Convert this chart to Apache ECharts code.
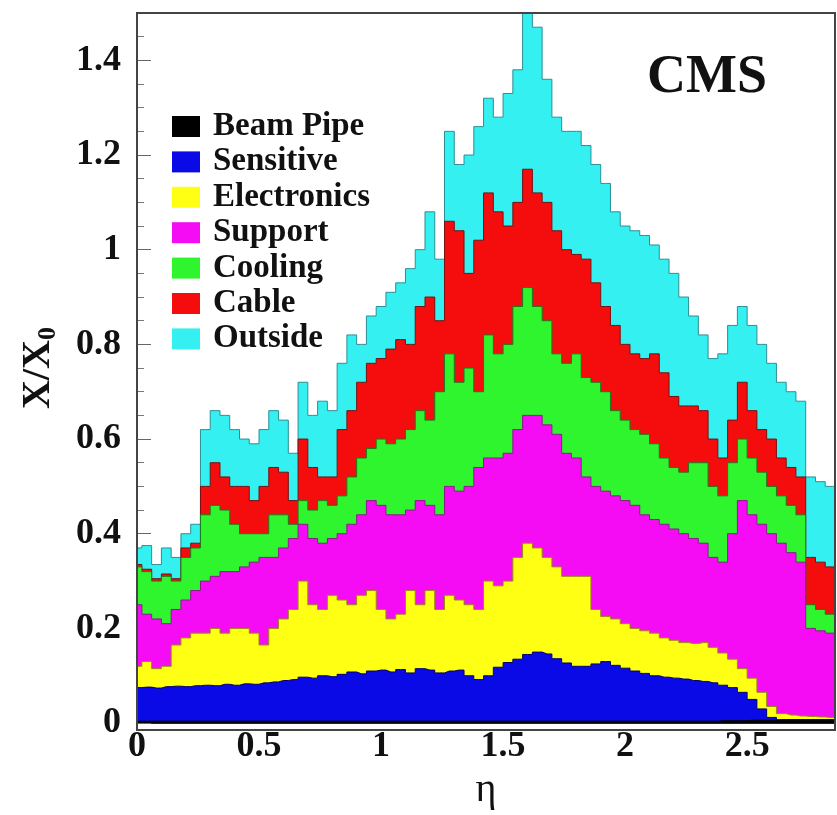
<!DOCTYPE html>
<html><head><meta charset="utf-8">
<script src="https://cdn.jsdelivr.net/npm/echarts@6.0.0/dist/echarts.min.js"></script>
<style>html,body{margin:0;padding:0;background:#fff}#c{width:837px;height:815px}</style>
</head><body><div id="c"></div>
<script>
// eta bin positions
const eta = [0,0.04,0.08,0.12,0.16,0.20,0.24,0.28,0.32,0.36,0.40,0.44,0.48,0.52,0.56,
 0.60,0.64,0.68,0.72,0.76,0.80,0.84,0.88,0.92,0.96,1.00,1.04,1.08,1.12,1.16,
 1.20,1.24,1.28,1.32,1.36,1.40,1.44,1.48,1.52,1.56,1.60,1.64,1.68,1.72,1.76,
 1.80,1.84,1.88,1.92,1.96,2.00,2.04,2.08,2.12,2.16,2.20,2.24,2.28,2.32,2.36,
 2.40,2.44,2.48,2.52,2.56,2.60,2.64,2.68,2.72,2.76,2.80,2.84,2.86];

// cumulative X/X0 (top edge of each category, stacked from the beam pipe upward)
const beamPipeTop = [0.004,0.004,0.004,0.004,0.004,0.004,0.004,0.004,0.004,0.004,0.004,0.004,0.004,0.004,0.004,
 0.004,0.004,0.004,0.004,0.004,0.004,0.004,0.004,0.004,0.004,0.004,0.004,0.004,0.004,0.004,
 0.004,0.004,0.004,0.004,0.004,0.004,0.004,0.004,0.004,0.004,0.004,0.004,0.004,0.004,0.004,
 0.004,0.004,0.004,0.004,0.004,0.004,0.004,0.004,0.004,0.004,0.004,0.004,0.004,0.004,0.004,
 0.005,0.005,0.005,0.006,0.006,0.006,0.007,0.007,0.007,0.007,0.007,0.007,0.007];
const sensitiveTop = [0.075,0.076,0.074,0.077,0.078,0.077,0.079,0.080,0.079,0.082,0.080,0.083,0.082,0.085,0.087,
 0.090,0.092,0.097,0.095,0.100,0.098,0.103,0.108,0.104,0.110,0.112,0.108,0.113,0.106,0.115,
 0.112,0.106,0.110,0.112,0.100,0.092,0.100,0.118,0.128,0.135,0.145,0.150,0.146,0.136,0.127,
 0.120,0.120,0.125,0.130,0.122,0.116,0.110,0.105,0.100,0.097,0.095,0.093,0.090,0.088,0.085,
 0.080,0.075,0.065,0.050,0.030,0.012,0.007,0.007,0.007,0.007,0.007,0.007,0.007];
const electronicsTop = [0.12,0.13,0.115,0.12,0.165,0.18,0.19,0.19,0.20,0.19,0.20,0.20,0.19,0.165,0.20,
 0.22,0.24,0.30,0.25,0.24,0.27,0.26,0.25,0.27,0.28,0.24,0.22,0.23,0.28,0.25,
 0.28,0.24,0.27,0.26,0.25,0.24,0.30,0.29,0.30,0.35,0.38,0.37,0.35,0.33,0.31,
 0.31,0.31,0.24,0.225,0.22,0.21,0.20,0.195,0.19,0.18,0.175,0.17,0.168,0.17,0.16,
 0.148,0.135,0.115,0.095,0.065,0.035,0.02,0.017,0.015,0.014,0.013,0.012,0.012];
const supportTop = [0.25,0.23,0.22,0.21,0.24,0.26,0.28,0.30,0.31,0.32,0.32,0.33,0.34,0.35,0.35,
 0.37,0.39,0.42,0.39,0.38,0.39,0.40,0.42,0.44,0.47,0.46,0.44,0.44,0.45,0.47,
 0.46,0.44,0.50,0.49,0.50,0.54,0.56,0.56,0.57,0.62,0.65,0.65,0.63,0.61,0.57,
 0.56,0.52,0.50,0.49,0.48,0.47,0.46,0.44,0.43,0.42,0.41,0.40,0.39,0.38,0.35,
 0.34,0.40,0.47,0.44,0.42,0.40,0.38,0.36,0.34,0.20,0.195,0.19,0.19];
const coolingTop = [0.33,0.32,0.30,0.31,0.30,0.35,0.37,0.44,0.46,0.45,0.42,0.40,0.40,0.40,0.44,
 0.44,0.42,0.47,0.45,0.47,0.46,0.48,0.52,0.56,0.58,0.60,0.59,0.60,0.62,0.66,
 0.64,0.70,0.78,0.72,0.75,0.70,0.82,0.78,0.80,0.88,0.92,0.88,0.85,0.78,0.76,
 0.78,0.73,0.72,0.70,0.66,0.64,0.62,0.61,0.59,0.56,0.54,0.53,0.55,0.55,0.50,
 0.48,0.55,0.60,0.56,0.53,0.50,0.48,0.46,0.44,0.25,0.24,0.23,0.23];
const cableTop = [0.335,0.325,0.305,0.315,0.305,0.37,0.38,0.50,0.55,0.52,0.50,0.50,0.47,0.50,0.54,
 0.53,0.47,0.60,0.54,0.52,0.52,0.62,0.66,0.72,0.76,0.77,0.79,0.81,0.80,0.88,
 0.90,0.85,1.06,1.04,0.95,1.02,1.12,1.08,1.05,1.10,1.17,1.12,1.10,1.04,1.00,
 0.99,0.98,0.93,0.88,0.84,0.80,0.78,0.77,0.78,0.74,0.69,0.67,0.67,0.66,0.60,
 0.56,0.64,0.72,0.66,0.62,0.60,0.56,0.54,0.52,0.35,0.34,0.33,0.33];
const outsideTop = [0.37,0.375,0.335,0.37,0.35,0.40,0.42,0.62,0.66,0.65,0.62,0.60,0.59,0.62,0.66,
 0.64,0.57,0.72,0.65,0.68,0.66,0.76,0.82,0.80,0.86,0.88,0.91,0.93,0.96,1.00,
 1.08,0.98,1.25,1.18,1.20,1.26,1.32,1.28,1.33,1.38,1.50,1.47,1.36,1.28,1.25,
 1.25,1.22,1.18,1.14,1.08,1.05,1.04,1.03,1.01,0.98,0.95,0.90,0.86,0.82,0.77,
 0.78,0.84,0.88,0.84,0.80,0.76,0.72,0.70,0.68,0.52,0.51,0.50,0.50];

const categories = ['Beam Pipe','Sensitive','Electronics','Support','Cooling','Cable','Outside'];
const yTicks = [0,0.2,0.4,0.6,0.8,1,1.2,1.4];
const xTicks = [0,0.5,1,1.5,2,2.5];

const serif = '"Liberation Serif","Times New Roman",serif';
const layers = [
  {name:'Outside', data:outsideTop, color:'#34f0f0', edge:'#2b8f95'},
  {name:'Cable', data:cableTop, color:'#f50c0c', edge:'#7a1010'},
  {name:'Cooling', data:coolingTop, color:'#2ef52e', edge:'#1d7a1d'},
  {name:'Support', data:supportTop, color:'#f50cf5', edge:'#8a1a8a'},
  {name:'Electronics', data:electronicsTop, color:'#ffff14', edge:'#9a8a10'},
  {name:'Sensitive', data:sensitiveTop, color:'#0a0ae6', edge:'#000070'},
  {name:'Beam Pipe', data:beamPipeTop, color:'#000000', edge:'#000000'}
];

const series = layers.map((l, k) => ({
  name: l.name,
  type: 'line',
  step: 'middle',
  symbol: 'none',
  color: l.color,
  data: eta.map((e, i) => [e, l.data[i]]),
  lineStyle: {color: l.edge, width: 1},
  areaStyle: {color: l.color, opacity: 1, origin: 'start'},
  z: 2 + k,
  animation: false,
  silent: true
}));

const chart = echarts.init(document.getElementById('c'), null, {renderer: 'canvas'});
chart.setOption({
  animation: false,
  backgroundColor: '#ffffff',
  grid: {left: 137, right: 2, top: 13, bottom: 85, containLabel: false},
  legend: {
    orient: 'vertical', left: 167, top: 105, selectedMode: false,
    icon: 'rect', itemWidth: 28, itemHeight: 21, itemGap: 2.4,
    data: categories.map(n => ({name: n, itemStyle: {color: layers.find(l => l.name === n).color, borderWidth: 0}})),
    textStyle: {fontFamily: serif, fontWeight: 'bold', fontSize: 33, color: '#111', lineHeight: 26, padding: [0,0,0,8]}
  },
  xAxis: {
    type: 'value', min: 0, max: 2.86, interval: 0.5,
    name: 'η', nameLocation: 'middle', nameGap: 42,
    nameTextStyle: {fontFamily: serif, fontSize: 40, color: '#111'},
    axisLine: {show: true, lineStyle: {color: '#222', width: 2}},
    axisTick: {show: true, inside: true, length: 14, lineStyle: {color: '#555'}},
    minorTick: {show: true, splitNumber: 5, length: 7, lineStyle: {color: '#555'}},
    splitLine: {show: false},
    axisLabel: {fontFamily: serif, fontWeight: 'bold', fontSize: 36, color: '#111', margin: 6,
      showMaxLabel: false, formatter: v => (xTicks.indexOf(+v.toFixed(2)) >= 0 ? String(+v.toFixed(2)) : '')}
  },
  yAxis: {
    type: 'value', min: 0, max: 1.5, interval: 0.2,
    name: '{a|X/X}{b|0}', nameLocation: 'middle', nameGap: 76, nameRotate: 90,
    nameTextStyle: {color: '#111', rich: {
      a: {fontFamily: serif, fontWeight: 'bold', fontSize: 40, color: '#111'},
      b: {fontFamily: serif, fontWeight: 'bold', fontSize: 26, color: '#111', padding: [18,0,0,0]}
    }},
    axisLine: {show: true, lineStyle: {color: '#444', width: 2}},
    axisTick: {show: true, inside: true, length: 14, lineStyle: {color: '#666'}},
    minorTick: {show: true, splitNumber: 4, length: 7, lineStyle: {color: '#777'}},
    splitLine: {show: false},
    axisLabel: {fontFamily: serif, fontWeight: 'bold', fontSize: 36, color: '#111', margin: 16,
      showMaxLabel: false, formatter: v => (yTicks.indexOf(+v.toFixed(2)) >= 0 ? String(+v.toFixed(2)) : '')}
  },
  graphic: [
    {type: 'rect', z: 100, silent: true, shape: {x: 137, y: 13, width: 698, height: 717},
     style: {fill: 'none', stroke: '#444', lineWidth: 2}},
    {type: 'text', z: 100, x: 707, y: 78, silent: true,
     style: {text: 'CMS', font: 'bold 54px ' + serif, fill: '#111', align: 'center', verticalAlign: 'middle'}}
  ],
  series: series
});
</script>
</body></html>
